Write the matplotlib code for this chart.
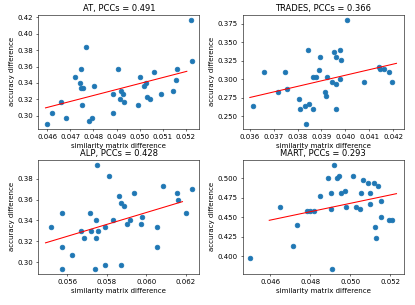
import numpy as np
import matplotlib
matplotlib.use("Agg")
import matplotlib.pyplot as plt
from matplotlib.ticker import MultipleLocator

titles = ["AT, PCCs = 0.491", "TRADES, PCCs = 0.366", "ALP, PCCs = 0.428", "MART, PCCs = 0.293"]

at_x = [0.04600, 0.04621, 0.04658, 0.04680, 0.04721, 0.04740, 0.04748, 0.04747, 0.04755, 0.04752,
        0.04770, 0.04782, 0.04792, 0.04801, 0.04885, 0.04885, 0.04905, 0.04913, 0.04920, 0.04926,
        0.04932, 0.04993, 0.05000, 0.05017, 0.05029, 0.05034, 0.05046, 0.05060, 0.05094, 0.05143,
        0.05158, 0.05160, 0.05220, 0.05227]
at_y = [0.2902, 0.3034, 0.3170, 0.2970, 0.3468, 0.3404, 0.3566, 0.3336, 0.3336, 0.3132,
        0.3834, 0.2936, 0.2970, 0.3366, 0.3268, 0.3034, 0.3566, 0.3200, 0.3298, 0.3264,
        0.3170, 0.3132, 0.3468, 0.3366, 0.3400, 0.3234, 0.3200, 0.3532, 0.3264, 0.3298,
        0.3434, 0.3566, 0.4166, 0.3664]

trades_x = [0.03615, 0.03658, 0.03716, 0.03748, 0.03757, 0.03807, 0.03812, 0.03829, 0.03836, 0.03845,
            0.03848, 0.03865, 0.03866, 0.03879, 0.03890, 0.03892, 0.03913, 0.03921, 0.03924, 0.03943,
            0.03952, 0.03960, 0.03959, 0.03960, 0.03977, 0.03981, 0.03977, 0.04007, 0.04076, 0.04142,
            0.04147, 0.04162, 0.04183, 0.04194]
trades_y = [0.2636, 0.3097, 0.2834, 0.3097, 0.2867, 0.2735, 0.2599, 0.2636, 0.2397, 0.3398,
            0.2669, 0.2599, 0.3031, 0.3031, 0.3130, 0.3299, 0.2834, 0.2768, 0.3031, 0.2965,
            0.3365, 0.3299, 0.2932, 0.2599, 0.3398, 0.3266, 0.2998, 0.3802, 0.2965, 0.3167,
            0.3134, 0.3134, 0.3097, 0.2965]

alp_x = [0.05518, 0.05572, 0.05575, 0.05575, 0.05622, 0.05670, 0.05685, 0.05716, 0.05721, 0.05739,
         0.05744, 0.05744, 0.05749, 0.05754, 0.05789, 0.05793, 0.05811, 0.05829, 0.05861, 0.05871,
         0.05870, 0.05885, 0.05902, 0.05918, 0.05937, 0.05972, 0.05980, 0.06054, 0.06054, 0.06082,
         0.06153, 0.06161, 0.06200, 0.06232]
alp_y = [0.3335, 0.3469, 0.3141, 0.2936, 0.3067, 0.3301, 0.3234, 0.3469, 0.3301, 0.2936,
         0.3402, 0.3234, 0.3931, 0.3301, 0.2967, 0.3335, 0.3830, 0.3402, 0.3633, 0.3566,
         0.2967, 0.3536, 0.3368, 0.3402, 0.3666, 0.3368, 0.3435, 0.3335, 0.3141, 0.3733,
         0.3666, 0.3599, 0.3469, 0.3700]

mart_x = [0.04498, 0.04651, 0.04712, 0.04736, 0.04783, 0.04797, 0.04818, 0.04851, 0.04889, 0.04904,
          0.04906, 0.04909, 0.04921, 0.04936, 0.04942, 0.04952, 0.04975, 0.04977, 0.05015, 0.05031,
          0.05051, 0.05053, 0.05063, 0.05089, 0.05098, 0.05101, 0.05121, 0.05139, 0.05124, 0.05131,
          0.05152, 0.05152, 0.05192, 0.05210]
mart_y = [0.3973, 0.4637, 0.4135, 0.4404, 0.4574, 0.4574, 0.4574, 0.4771, 0.5004, 0.4807,
          0.4605, 0.3839, 0.5170, 0.5004, 0.5036, 0.4807, 0.4839, 0.4637, 0.5036, 0.4637,
          0.4605, 0.4807, 0.4973, 0.4937, 0.4673, 0.4807, 0.4937, 0.4906, 0.4372, 0.4238,
          0.4708, 0.4507, 0.4471, 0.4471]

# x-range over which each fitted line is drawn
line_ranges = [(0.04593, 0.05204), (0.03600, 0.04214), (0.05489, 0.06183), (0.04595, 0.05231)]

# tick spacing per panel (x, y)
tick_steps = [(0.001, 0.02), (0.001, 0.025), (0.002, 0.02), (0.002, 0.025)]

datasets = [(at_x, at_y), (trades_x, trades_y), (alp_x, alp_y), (mart_x, mart_y)]

DPI = 50.4
fig, axes = plt.subplots(2, 2, figsize=(415 / DPI, 305 / DPI), dpi=DPI)
fig.subplots_adjust(left=0.092, right=0.973, top=0.951, bottom=0.102, wspace=0.267, hspace=0.272)

for ax, (xs, ys), title, (x0, x1), (sx, sy) in zip(axes.flat, datasets, titles, line_ranges, tick_steps):
    xs = np.array(xs)
    ys = np.array(ys)
    ax.scatter(xs, ys, color="#1f77b4", s=45)
    k, b = np.polyfit(xs, ys, 1)
    lx = np.array([x0, x1])
    ax.plot(lx, k * lx + b, color="red")
    ax.xaxis.set_major_locator(MultipleLocator(sx))
    ax.yaxis.set_major_locator(MultipleLocator(sy))
    ax.set_title(title)
    ax.set_xlabel("similarity matrix difference")
    ax.set_ylabel("accuracy difference")

fig.savefig("out.png", dpi=DPI)
